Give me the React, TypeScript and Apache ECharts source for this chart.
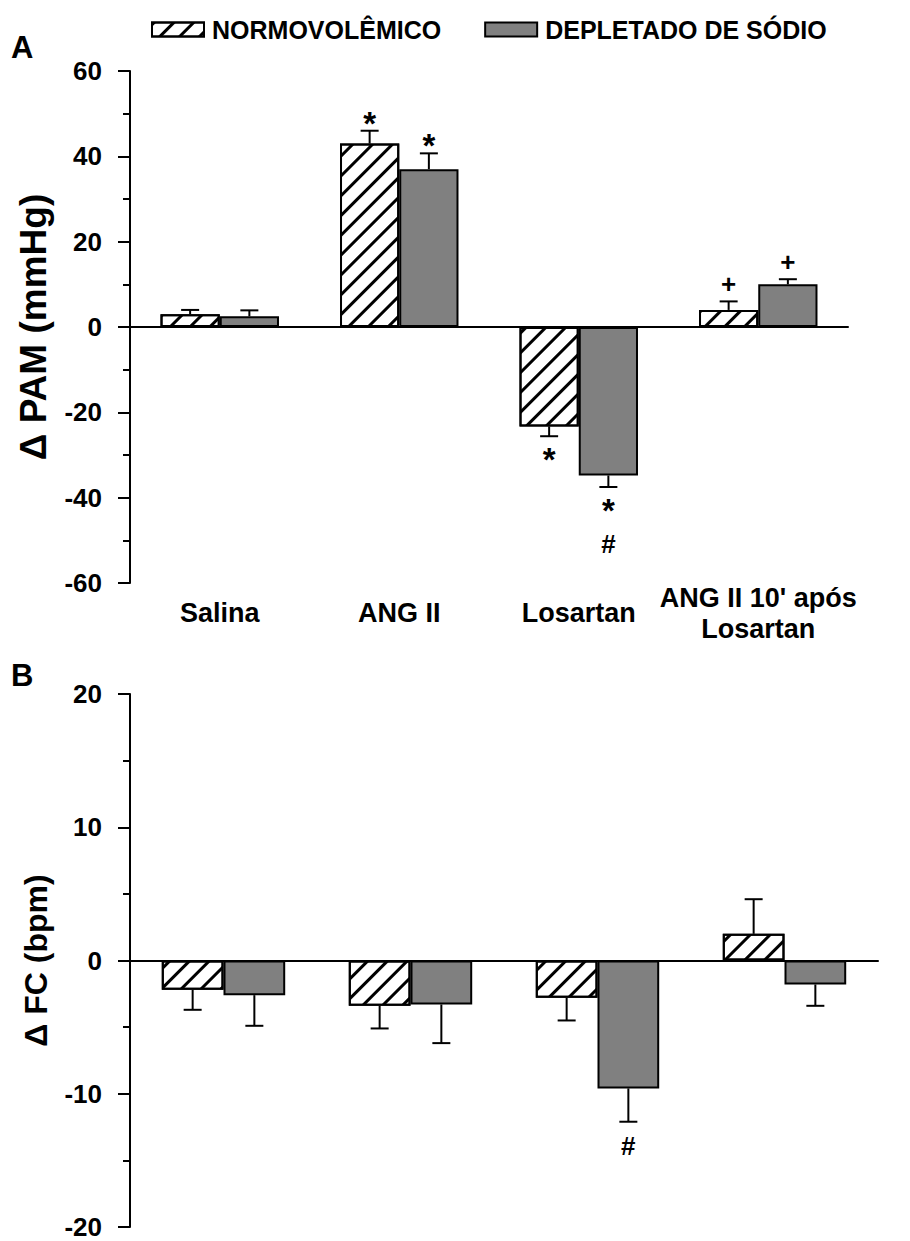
import React, { useEffect, useRef } from "react";
import * as echarts from "echarts";

// Groups and treatments
const groups = ["NORMOVOLÊMICO", "DEPLETADO DE SÓDIO"];
const categories = ["Salina", "ANG II", "Losartan", "ANG II 10' após\nLosartan"];

// Panel A: Δ PAM (mmHg), mean and SEM
const pamNormo = [3, 43, -23.3, 4];
const pamNormoSem = [1, 3, 2.3, 2];
const pamDepl = [2.5, 37, -34.8, 10];
const pamDeplSem = [1.4, 3.7, 2.7, 1.2];
const pamNormoMarks = ["", "*", "*", "+"];
const pamDeplMarks = ["", "*", "*#", "+"];
const pamTicks = { min: -60, max: 60, interval: 20 };

// Panel B: Δ FC (bpm), mean and SEM
const fcNormo = [-2.2, -3.4, -2.8, 2.0];
const fcNormoSem = [1.5, 1.7, 1.7, 2.6];
const fcDepl = [-2.6, -3.3, -9.6, -1.8];
const fcDeplSem = [2.3, 2.9, 2.5, 1.6];
const fcNormoMarks = ["", "", "", ""];
const fcDeplMarks = ["", "", "#", ""];
const fcTicks = { min: -20, max: 20, interval: 10 };

const FONT = "'Liberation Sans', Arial, sans-serif";
const BAR_FRAC = 0.33;
const GREY = "#808080";

const hatch = {
  symbol: "rect",
  symbolSize: 1,
  color: "#000",
  dashArrayX: [1, 0],
  dashArrayY: [2.4, 10.6],
  rotation: -Math.PI / 4,
};

// Significance symbols: font size, gap above a cap, gap below a cap,
// and how far the glyph sits above the middle of its text box
const markStyle: Record<string, { size: number; up: number; down: number; rise: number }> = {
  "*": { size: 33, up: 14, down: 17, rise: 6.3 },
  "#": { size: 26, up: 20, down: 24, rise: 0 },
  "+": { size: 26, up: 17, down: 17, rise: 0 },
};
const MARK_STEP = 40;

function errorSeries(
  gridIdx: number,
  side: number,
  means: number[],
  sems: number[],
  marks: string[]
) {
  const data = means.map((m, i) => [i, m, sems[i], i]);
  return {
    type: "custom",
    xAxisIndex: gridIdx * 2,
    yAxisIndex: gridIdx,
    silent: true,
    z: 5,
    data,
    renderItem: (params: any, api: any) => {
      const idx = api.value(0);
      const mean = api.value(1);
      const sem = api.value(2);
      const k = api.value(3);
      const band = api.size([1, 0])[0];
      const bw = band * BAR_FRAC;
      const base = api.coord([idx, 0]);
      const cx = base[0] + (side * bw) / 2;
      const end = mean >= 0 ? mean + sem : mean - sem;
      const y0 = api.coord([idx, mean])[1];
      const y1 = api.coord([idx, end])[1];
      const up = mean >= 0;
      const lineStyle = { stroke: "#000", lineWidth: 2 };
      const children: any[] = [
        { type: "line", shape: { x1: cx, y1: y0, x2: cx, y2: y1 }, style: lineStyle },
        { type: "line", shape: { x1: cx - 9, y1: y1, x2: cx + 9, y2: y1 }, style: lineStyle },
      ];
      const mk = marks[k] || "";
      mk.split("").forEach((ch, j) => {
        const s = markStyle[ch];
        const glyphY = up
          ? y1 - s.up - j * MARK_STEP
          : y1 + (j === 0 ? s.down : markStyle[mk[0]].down + j * MARK_STEP);
        children.push({
          type: "text",
          x: cx,
          y: glyphY + s.rise,
          style: {
            text: ch,
            font: `bold ${s.size}px ${FONT}`,
            fill: "#000",
            align: "center",
            verticalAlign: "middle",
          },
        });
      });
      return { type: "group", children };
    },
  };
}

function barSeries(name: string, gridIdx: number, values: number[], hatched: boolean) {
  return {
    name,
    type: "bar",
    xAxisIndex: gridIdx * 2,
    yAxisIndex: gridIdx,
    barWidth: `${BAR_FRAC * 100}%`,
    barGap: "0%",
    data: values,
    itemStyle: hatched
      ? { color: "#fff", borderColor: "#000", borderWidth: 2, decal: hatch }
      : { color: GREY, borderColor: "#000", borderWidth: 2 },
  };
}

function yAxis(gridIdx: number, ticks: any, name: string, nameSize: number) {
  return {
    type: "value",
    gridIndex: gridIdx,
    min: ticks.min,
    max: ticks.max,
    interval: ticks.interval,
    name,
    nameLocation: "middle",
    nameGap: 78,
    nameTextStyle: { fontFamily: FONT, fontWeight: "bold", fontSize: nameSize, color: "#000" },
    axisLine: { show: true, lineStyle: { color: "#000", width: 2 } },
    axisTick: { show: true, length: 12, lineStyle: { color: "#000", width: 2 } },
    minorTick: { show: true, splitNumber: 2, length: 7, lineStyle: { color: "#000", width: 2 } },
    splitLine: { show: false },
    axisLabel: {
      margin: 28,
      fontFamily: FONT,
      fontWeight: "bold",
      fontSize: 26,
      lineHeight: 22,
      color: "#000",
    },
  };
}

function xAxes(gridIdx: number, showLabels: boolean) {
  return [
    {
      type: "category",
      gridIndex: gridIdx,
      data: categories,
      axisLine: { show: true, onZero: true, lineStyle: { color: "#000", width: 2 } },
      axisTick: { show: false },
      axisLabel: { show: false },
    },
    {
      type: "category",
      gridIndex: gridIdx,
      data: categories,
      position: "bottom",
      axisLine: { show: false, onZero: false },
      axisTick: { show: false },
      axisLabel: {
        show: showLabels,
        margin: 30,
        interval: 0,
        verticalAlign: "middle",
        fontFamily: FONT,
        fontWeight: "bold",
        fontSize: 27,
        lineHeight: 31,
        color: "#000",
      },
    },
  ];
}

export default function App() {
  const ref = useRef<HTMLDivElement>(null);

  useEffect(() => {
    if (!ref.current) return;
    const chart = echarts.init(ref.current, undefined, { renderer: "svg" });
    chart.setOption({
      animation: false,
      backgroundColor: "#fff",
      legend: {
        data: groups,
        left: 146,
        top: 12,
        itemWidth: 52,
        itemHeight: 14,
        itemGap: 43,
        icon: "rect",
        textStyle: {
          fontFamily: FONT,
          fontWeight: "bold",
          fontSize: 25,
          color: "#000",
          padding: [0, 0, 0, 3],
        },
      },
      grid: [
        { left: 130, right: 62, top: 71, bottom: 658 },
        { left: 130, right: 32, top: 694, bottom: 14 },
      ],
      xAxis: [...xAxes(0, true), ...xAxes(1, false)],
      yAxis: [
        yAxis(0, pamTicks, "Δ PAM (mmHg)", 37),
        yAxis(1, fcTicks, "Δ FC (bpm)", 32),
      ],
      graphic: [
        { type: "text", left: 11, top: 32, style: { text: "A", font: `bold 31px ${FONT}`, fill: "#000" } },
        { type: "text", left: 11, top: 660, style: { text: "B", font: `bold 31px ${FONT}`, fill: "#000" } },
      ],
      series: [
        barSeries(groups[0], 0, pamNormo, true),
        barSeries(groups[1], 0, pamDepl, false),
        errorSeries(0, -1, pamNormo, pamNormoSem, pamNormoMarks),
        errorSeries(0, 1, pamDepl, pamDeplSem, pamDeplMarks),
        barSeries(groups[0], 1, fcNormo, true),
        barSeries(groups[1], 1, fcDepl, false),
        errorSeries(1, -1, fcNormo, fcNormoSem, fcNormoMarks),
        errorSeries(1, 1, fcDepl, fcDeplSem, fcDeplMarks),
      ],
    });
    return () => chart.dispose();
  }, []);

  return (
    <div
      ref={ref}
      style={{ position: "absolute", left: 0, top: 0, width: 910, height: 1241, background: "#fff" }}
    />
  );
}
